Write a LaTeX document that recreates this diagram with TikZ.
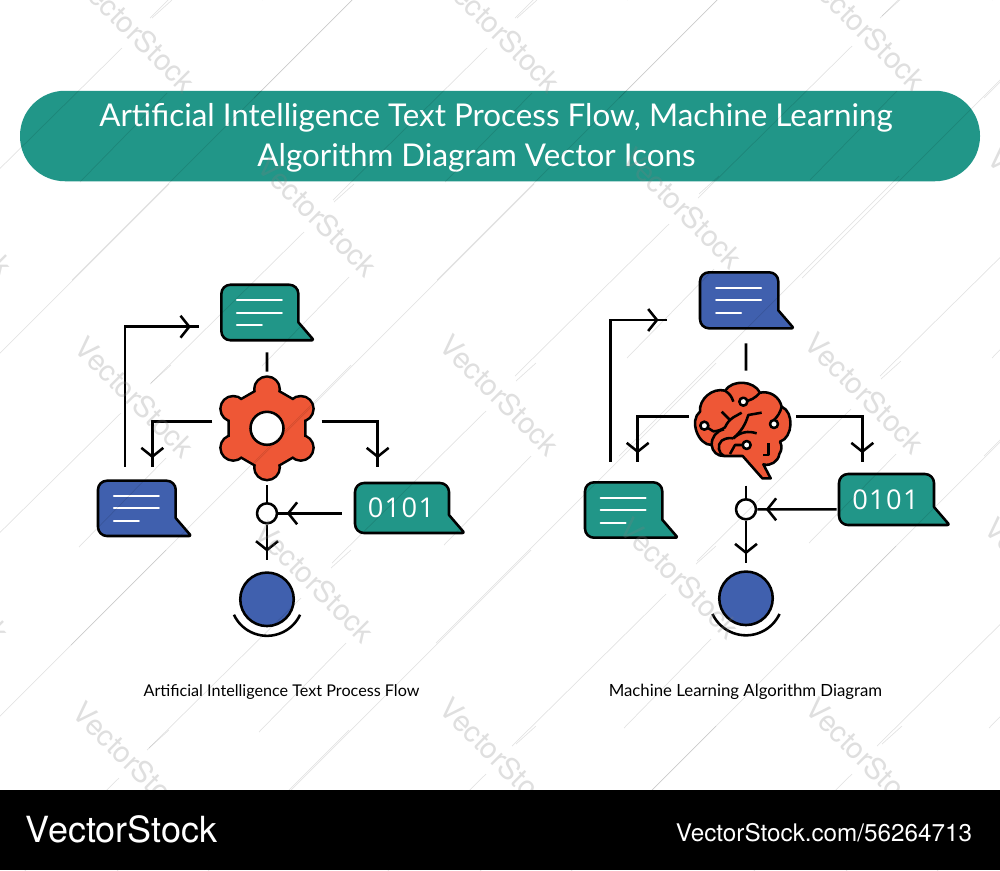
\documentclass[tikz,border=0pt]{standalone}
\usepackage{fontspec}
\setmainfont{Lato}
\newfontfamily\stockfont{TeX Gyre Heros}
\newfontfamily\bitfont{Open Sans}
\usetikzlibrary{arrows.meta,decorations.markings}
\definecolor{tealfill}{RGB}{33,150,136}
\definecolor{bluefill}{RGB}{64,96,174}
\definecolor{redfill}{RGB}{238,87,54}
\newcommand{\px}{0.02cm}
\tikzset{
  wire/.style={line width=1.45pt,draw=black},
  outline/.style={line width=1.45pt,draw=black,line join=round},
  flow/.style={wire,postaction={decorate},decoration={markings,
    mark=at position -4.8pt with {\arrow[line width=1.45pt]{Straight Barb[length=5pt,width=12.5pt]}}}},
  holder/.style={inner sep=0pt,outer sep=0pt},
  textrule/.style={line width=1.15pt,draw=white,line cap=round},
  junction/.style={circle,outline,fill=white,inner sep=0pt,minimum size=20*\px},
  ball/.style={circle,outline,fill=bluefill,inner sep=0pt,minimum size=53.5*\px},
  caption/.style={anchor=base,holder,font=\fontsize{9.2}{11}\selectfont},
  titleline/.style={anchor=base,holder,text=white,font=\fontsize{17.85}{22}\selectfont},
  bits/.style={text=white,font=\bitfont\fontsize{15.5}{18}\selectfont\addfontfeatures{LetterSpace=5}}
}
% bubble: name, centre, width, height, colour
\newcommand{\bubble}[5]{
  \node[holder,minimum width=#3*\px,minimum height=#4*\px] (#1) at #2 {};
  \filldraw[outline,fill=#5,rounded corners=1.8mm] (#1.west) -- (#1.north west) -- (#1.north east)
    [sharp corners] -- ([yshift=18*\px]#1.south east) [rounded corners=0.4mm] -- ([xshift=15.5*\px]#1.south east)
    [rounded corners=1.8mm] -- (#1.south west) -- cycle;
}
\newcommand{\chatlines}[1]{
  \foreach \y/\e in {-12.5/22,0/22,12.5/2} {
    \draw[textrule] ([shift={(-23,\y)}]#1.center) -- ([shift={(\e,\y)}]#1.center);
  }
}
\newcommand{\gearwheel}[2]{
  \node[holder,circle,minimum size=102*\px] (#1) at #2 {};
  \begin{scope}[shift={(#1.center)}]
    \draw[outline,line width=2.9pt] (30:42.7) -- (90:42.7) -- (150:42.7) -- (210:42.7) -- (270:42.7) -- (330:42.7) -- cycle;
    \foreach \a in {30,90,...,330} {
      \draw[outline,line width=2.9pt] (\a:39) circle [radius=11.5];
    }
    \fill[redfill] (30:42.7) -- (90:42.7) -- (150:42.7) -- (210:42.7) -- (270:42.7) -- (330:42.7) -- cycle;
    \foreach \a in {30,90,...,330} {
      \fill[redfill] (\a:39) circle [radius=11.5];
    }
    \filldraw[outline,fill=white] (0,0) circle [radius=16.5];
  \end{scope}
}
\newcommand{\brainmap}[2]{
  \node[holder,circle,minimum size=102*\px] (#1) at #2 {};
  \begin{scope}[shift={(680,370)},scale=0.3333]
    \filldraw[outline,fill=redfill] (132,258) to[bend left=45] (95,225) to[bend left=72] (60,125)
      to[bend left=55] (135,62) to[bend left=60] (240,68) to[bend left=45] (305,110)
      to[bend left=70] (300,215) to[bend left=30] (298,252) to[bend left=50] (250,283)
      -- (272,325) -- (247,325) -- (188,258) -- cycle;
    \draw[outline] (73,167) -- (100,184) to[bend right=15] (135,172) to[bend left=15] (160,142) -- (185,128);
    \draw[outline] (125,125) -- (150,150);
    \draw[outline] (95,225) to[bend left=40] (132,178);
    \draw[outline] (132,258) to[bend left=60] (125,212) to[bend left=20] (160,205);
    \draw[outline] (160,205) to[bend right=15] (205,135) -- (245,128);
    \draw[outline] (160,205) to[bend left=30] (230,190);
    \draw[outline] (200,225) -- (165,225) -- (150,252);
    \draw[outline] (190,95) to[bend right=20] (240,68);
    \draw[outline] (135,62) to[bend left=20] (160,95);
    \draw[outline] (305,110) to[bend left=15] (282,150);
    \draw[outline] (265,220) -- (265,255) -- (248,255);
    \foreach \x/\y in {190/95,73/167,282/162,200/225} {
      \filldraw[outline,fill=white] (\x,\y) circle [radius=12];
    }
  \end{scope}
}

\begin{document}
\begin{tikzpicture}[x=\px,y=-\px]
  \useasboundingbox (0,0) rectangle (1000,870);
  \clip (0,0) rectangle (1000,870);
  \fill[white] (0,0) rectangle (1000,870);

  % banner
  \node[holder,rounded corners=45*\px,fill=tealfill,minimum width=960*\px,minimum height=90.5*\px] (banner) at (500,136) {};
  \node[titleline] (titleA) at (496,126) {Artificial Intelligence Text Process Flow, Machine Learning};
  \node[titleline] (titleB) at (476.5,166) {Algorithm Diagram Vector Icons};

  % text process flow
  \bubble{chatA}{(259.85,312.5)}{77}{55.5}{tealfill}
  \chatlines{chatA}
  \bubble{chatB}{(136.85,508.35)}{77.7}{55.3}{bluefill}
  \chatlines{chatB}
  \bubble{codeA}{(402,508)}{94}{50}{tealfill}
  \node[bits] (bitsA) at (401,508) {0101};
  \gearwheel{gearA}{(267,428.3)}
  \node[junction] (joinA) at (267,513.3) {};
  \node[ball] (ballA) at (267,599.3) {};
  \draw[flow] ([shift={(-12,-14)}]chatB.north) |- ([shift={(-22,14.2)}]chatA.west);
  \draw[wire] ([shift={(7.15,12.2)}]chatA.south) -- ([yshift=5.6*\px]gearA.north);
  \draw[flow] ([shift={(-3.7,-6.6)}]gearA.west) -| (152.3,466.7);
  \draw[flow] ([shift={(3.7,-6.6)}]gearA.east) -| (377.7,466.7);
  \draw[wire] ([yshift=-5.7*\px]gearA.south) -- (joinA.north);
  \draw[flow] ([shift={(-13.3,5.3)}]codeA.west) -- (joinA.east);
  \draw[flow] (joinA.south) -- (267,560);
  \draw[wire] (ballA.center) ++(155:36.5) arc [start angle=155,end angle=25,radius=36.5];
  \node[caption] (labelA) at (281.5,696) {Artificial Intelligence Text Process Flow};

  % algorithm diagram
  \bubble{chatC}{(739.15,300.3)}{78.3}{56}{bluefill}
  \chatlines{chatC}
  \bubble{chatD}{(623.65,510)}{77.3}{55.4}{tealfill}
  \chatlines{chatD}
  \bubble{codeB}{(886.5,499.5)}{95}{51}{tealfill}
  \node[bits] (bitsB) at (885.5,499.5) {0101};
  \brainmap{brainA}{(746,425)}
  \node[junction] (joinB) at (746,509.3) {};
  \node[ball] (ballB) at (746,598.3) {};
  \draw[flow] ([shift={(-13,-20.6)}]chatD.north) |- ([shift={(-33,19.7)}]chatC.west);
  \draw[wire] ([shift={(6.85,15)}]chatC.south) -- ([yshift=3.3*\px]brainA.north);
  \draw[flow] ([shift={(-6,-8.3)}]brainA.west) -| (637.7,461.7);
  \draw[flow] ([shift={(-1,-8.3)}]brainA.east) -| (862.3,461.7);
  \draw[wire] ([yshift=-9.7*\px]brainA.south) -- (joinB.north);
  \draw[flow] ([shift={(-2.3,9.8)}]codeB.west) -- (joinB.east);
  \draw[flow] (joinB.south) -- (746,562.7);
  \draw[wire] (ballB.center) ++(155:37) arc [start angle=155,end angle=25,radius=37];
  \node[caption,font=\fontsize{9.55}{11}\selectfont] (labelB) at (745.5,696) {Machine Learning Algorithm Diagram};

  % watermark
  \foreach \cx/\cy in {136/32,501/32,866/30,-47/216,318/216,683/208,1048/208,135/397,500/395,865/393,-50/582,315/582,680/578,1045/578,133/762,500/758,866/758,-47/-150,318/-150,683/-150,1048/-150} {
    \draw[black,opacity=0.11,line width=0.4pt] (\cx+36,\cy-32) -- (\cx+16,\cy-14) (\cx-14,\cy+16) -- (\cx-168,\cy+168)
      (\cx+216,\cy-32) -- (\cx-64,\cy+248) (\cx+31,\cy+61) -- (\cx-56,\cy+150);
  }
  \foreach \cx/\cy in {136/32,501/32,866/30,-47/216,318/216,683/208,1048/208,135/397,500/395,865/393,-50/582,315/582,680/578,1045/578,133/762,500/758,866/758} {
    \node[rotate=-45,text=gray,text opacity=0.25,font=\stockfont\fontsize{16.6}{20}\selectfont] at (\cx,\cy) {VectorStock};
  }

  % footer
  \fill[black] (0,790) rectangle (1000,870);
  \node[holder,anchor=base west,text=white,font=\stockfont\fontsize{20.5}{24}\selectfont] (stockA) at (26,842) {VectorStock};
  \node[holder,anchor=base east,text=white,font=\stockfont\fontsize{13.8}{16}\selectfont] (stockB) at (972,841) {VectorStock.com/56264713};
\end{tikzpicture}
\end{document}
